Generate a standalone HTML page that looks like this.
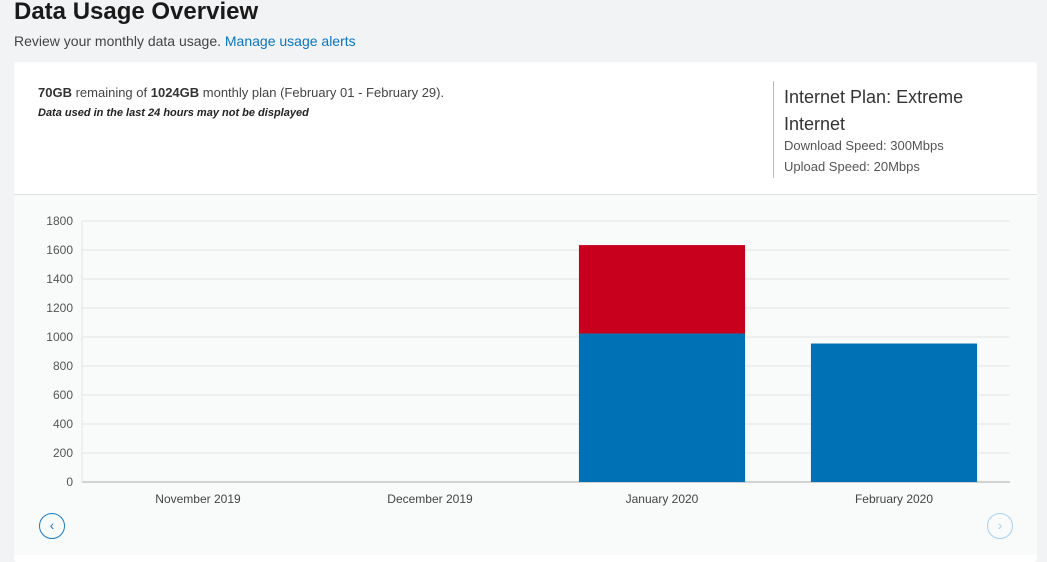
<!DOCTYPE html>
<html><head><meta charset="utf-8"><style>
body{margin:0;width:1047px;height:547px;background:#f2f3f5;font-family:"Liberation Sans",sans-serif;position:relative;overflow:hidden;color:#222}
.a{position:absolute;white-space:nowrap}
</style></head><body>
<div class="a" style="left:14px;top:-2px;font-size:24px;font-weight:bold;color:#1a1a1a">Data Usage Overview</div>
<div class="a" style="left:14px;top:33px;font-size:14px;color:#444">Review your monthly data usage. <span style="color:#0a75c2">Manage usage alerts</span></div>
<div class="a" style="left:14px;top:62px;width:1023px;height:500px;background:#fff;border-radius:3px"></div>
<div class="a" style="left:38px;top:85px;font-size:13px;color:#444"><b style="color:#333">70GB</b> remaining of <b style="color:#333">1024GB</b> monthly plan (February 01 - February 29).</div>
<div class="a" style="left:38px;top:107px;font-size:11px;font-style:italic;font-weight:bold;color:#222">Data used in the last 24 hours may not be displayed</div>
<div class="a" style="left:773px;top:81px;width:1px;height:97px;background:#bbb"></div>
<div class="a" style="left:784px;top:84px;font-size:18px;line-height:27px;color:#333">Internet Plan: Extreme<br>Internet</div>
<div class="a" style="left:784px;top:138px;font-size:13px;color:#555">Download Speed: 300Mbps</div>
<div class="a" style="left:784px;top:159px;font-size:13px;color:#555">Upload Speed: 20Mbps</div>
<div class="a" style="left:14px;top:194px;width:1023px;height:360px;background:#f9fafa;border-top:1px solid #dde0e3"></div>
<svg class="a" id="chart" style="left:0;top:0" width="1047" height="547"></svg>
<div class="a" style="left:39px;top:513px;width:24px;height:24px;border:1.5px solid #1a7bc4;border-radius:50%;color:#1a7bc4;font-size:14px;text-align:center;line-height:23px">‹</div>
<div class="a" style="left:987px;top:513px;width:24px;height:24px;border:1.5px solid #a9d0ee;border-radius:50%;color:#a9d0ee;font-size:14px;text-align:center;line-height:23px">›</div>
<script>
const categories=["November 2019","December 2019","January 2020","February 2020"];
const usedPlan=[0,0,1024,955];
const overage=[0,0,610,0];
const yTicks=[0,200,400,600,800,1000,1200,1400,1600,1800];
const NS="http://www.w3.org/2000/svg";
const svg=document.getElementById('chart');
const x0=82,x1=1010,yB=482,yT=221,yMax=1800;
const y=v=>yB-(v/yMax)*(yB-yT);
const band=(x1-x0)/categories.length;
const bx=i=>x0+band*i+band*0.142;
const bw=band*0.716;
function el(t,a){const e=document.createElementNS(NS,t);for(const k in a)e.setAttribute(k,a[k]);svg.appendChild(e);return e;}
yTicks.forEach(v=>{
  const l=el('line',{x1:x0,x2:x1,y1:y(v),y2:y(v),stroke:v===0?'#aaa':'#e3e5e6','stroke-width':1});
  
  
  const t=el('text',{x:73,y:y(v)+4,'text-anchor':'end','font-size':12,fill:'#555','font-family':'Liberation Sans, sans-serif'});
  t.textContent=v;
  
  
});
const ax=el('line',{x1:x0,x2:x0,y1:yT,y2:yB,stroke:'#e3e5e6'});


categories.forEach((c,i)=>{
  if(usedPlan[i]>0){
    const r=el('rect',{x:bx(i),y:y(usedPlan[i]),width:bw,height:yB-y(usedPlan[i]),fill:'#0071b5'});
    
    
  }
  if(overage[i]>0){
    const r=el('rect',{x:bx(i),y:y(usedPlan[i]+overage[i]),width:bw,height:y(usedPlan[i])-y(usedPlan[i]+overage[i]),fill:'#c8001e'});
    
    
  }
  const t=el('text',{x:x0+band*(i+0.5),y:503,'text-anchor':'middle','font-size':12,fill:'#444','font-family':'Liberation Sans, sans-serif'});
  t.textContent=c;
  
  
});
</script>
</body></html>
